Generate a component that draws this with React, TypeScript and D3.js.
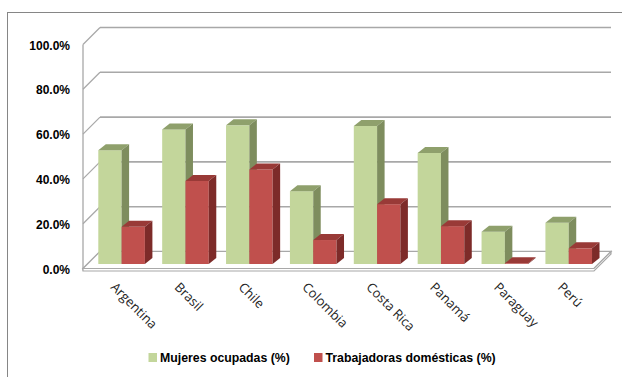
import React from "react";
import * as d3 from "d3";

const categories = ["Argentina", "Brasil", "Chile", "Colombia", "Costa Rica", "Panamá", "Paraguay", "Perú"];
const seriesNames = ["Mujeres ocupadas (%)", "Trabajadoras domésticas (%)"];
const mujeresOcupadas = [50.8, 60.1, 61.9, 32.5, 61.6, 49.6, 14.4, 18.4];
const trabajadorasDomesticas = [16.6, 37.1, 42.2, 10.7, 26.7, 16.9, 0.3, 7.0];
const yTicks = [0, 20, 40, 60, 80, 100];

const W = 622;
const H = 377;
const D = 17; // wall depth
const S = 4.5; // bar plane offset
const BD = { dx: 7.5, dy: -6 }; // bar depth

const colors = [
  { front: "#C3D69B", top: "#8FA06C", side: "#7E8D5E" },
  { front: "#C0504D", top: "#993A37", side: "#7D2B29" },
];

export default function App() {
  const x = d3.scaleBand<string>().domain(categories).range([83, 594]).padding(0);
  const inner = d3.scaleBand<string>().domain(seriesNames).range([10.8, 10.8 + 46.6]).padding(0);
  const y = d3.scaleLinear().domain([0, 100]).range([268.5, 44.5]);
  const x0 = 83;
  const x1 = 594;
  const grid = "#A8A8A8";
  const data = [mujeresOcupadas, trabajadorasDomesticas];

  const bars: JSX.Element[] = [];
  categories.forEach((c, i) => {
    data.forEach((arr, j) => {
      const v = arr[i];
      const bx = (x(c) as number) + (inner(seriesNames[j]) as number) + S;
      const bw = inner.bandwidth();
      const yb = y(0) - S;
      const yt = y(v) - S;
      const col = colors[j];
      bars.push(
        <g key={`${c}-${j}`}>
          <rect x={bx} y={yt} width={bw} height={yb - yt} fill={col.front} />
          <polygon
            points={`${bx},${yt} ${bx + bw},${yt} ${bx + bw + BD.dx},${yt + BD.dy} ${bx + BD.dx},${yt + BD.dy}`}
            fill={col.top}
          />
          <polygon
            points={`${bx + bw},${yt} ${bx + bw + BD.dx},${yt + BD.dy} ${bx + bw + BD.dx},${yb + BD.dy} ${bx + bw},${yb}`}
            fill={col.side}
          />
        </g>
      );
    });
  });

  return (
    <svg width={W} height={H} style={{ position: "absolute", left: 0, top: 0, background: "#fff" }}>
      <rect x={7.5} y={12.5} width={640} height={400} fill="#fff" stroke="#868686" strokeWidth={1} />
      {/* back wall gridlines and left wall */}
      {yTicks.map((t) => (
        <g key={t}>
          <line x1={x0 + D} x2={x1 + D} y1={y(t) - D} y2={y(t) - D} stroke={grid} strokeWidth={1.6} />
          <line x1={x0} x2={x0 + D} y1={y(t)} y2={y(t) - D} stroke={grid} strokeWidth={1.3} />
        </g>
      ))}
      <line x1={x0} x2={x0} y1={y(100)} y2={y(0) + 2} stroke={grid} strokeWidth={1.3} />
      {/* floor slab */}
      <polygon
        points={`${x0},${y(0)} ${x1},${y(0)} ${x1 + D},${y(0) - D} ${x0 + D},${y(0) - D}`}
        fill="#fff"
        stroke={grid}
        strokeWidth={1.2}
      />
      <polygon
        points={`${x0},${y(0)} ${x1},${y(0)} ${x1 + D},${y(0) - D} ${x1 + D},${y(0) - D + 2.5} ${x1},${y(0) + 2.5} ${x0},${y(0) + 2.5}`}
        fill="#fff"
        stroke={grid}
        strokeWidth={1.2}
      />
      {bars}
      {/* y labels */}
      {yTicks.map((t) => (
        <text
          key={t}
          x={70}
          y={y(t) + 1}
          textAnchor="end"
          dominantBaseline="central"
          fontFamily="Liberation Sans, Arial, sans-serif"
          fontWeight="bold"
          fontSize={12}
          fill="#000"
        >
          {d3.format(".1f")(t)}%
        </text>
      ))}
      {/* category labels */}
      {categories.map((c) => {
        const cx = (x(c) as number) + x.bandwidth() / 2 - 5;
        return (
          <text
            key={c}
            transform={`translate(${cx},${288}) rotate(45)`}
            textAnchor="start"
            fontFamily="Open Sans, sans-serif"
            fontSize={13}
            fill="#262626"
          >
            {c}
          </text>
        );
      })}
      {/* legend */}
      {seriesNames.map((s, j) => {
        const lx = j === 0 ? 148.5 : 314;
        return (
          <g key={s}>
            <rect x={lx} y={353} width={8.5} height={9} fill={colors[j].front} />
            <text
              x={lx + 11.5}
              y={362}
              fontFamily="Liberation Sans, Arial, sans-serif"
              fontWeight="bold"
              fontSize={12.3}
              fill="#000"
            >
              {s}
            </text>
          </g>
        );
      })}
    </svg>
  );
}
